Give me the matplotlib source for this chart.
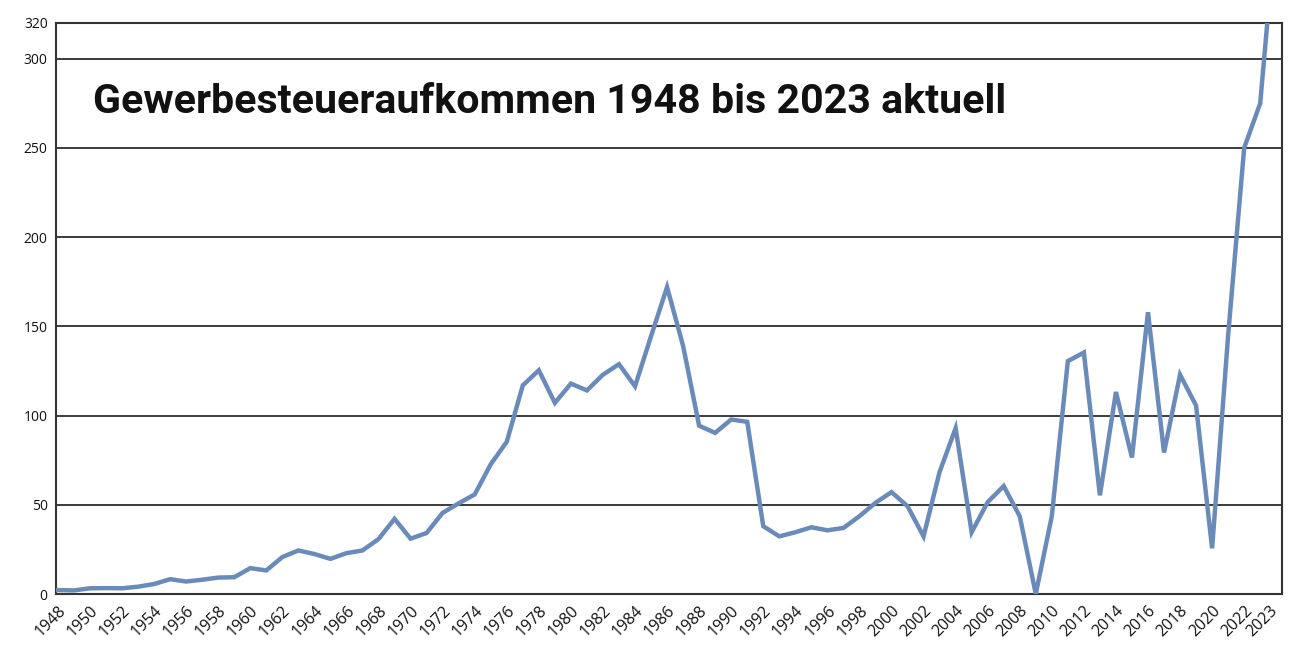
import matplotlib
matplotlib.use("Agg")
import matplotlib.pyplot as plt

years = list(range(1948, 2024))
values = [2.2, 2.0, 3.2, 3.3, 3.2, 4.1, 5.6, 8.3, 7.0, 8.0, 9.2, 9.4,
          14.5, 13.2, 20.7, 24.4, 22.4, 19.7, 22.9, 24.4, 30.8, 42.1, 31.0, 34.2,
          45.5, 50.8, 55.8, 72.7, 85.3, 116.9, 125.4, 107.1, 117.9, 114.1, 122.9, 128.8,
          116.4, 144.5, 172.0, 139.0, 94.3, 90.3, 97.8, 96.5, 38.0, 32.3, 34.6, 37.4,
          35.7, 37.0, 43.6, 51.1, 57.1, 49.2, 32.3, 68.4, 92.9, 34.6, 51.5, 60.5,
          43.6, 0.0, 43.6, 130.5, 135.3, 55.3, 113.2, 76.5, 157.9, 79.3, 122.9, 105.6,
          25.6, 145.0, 250.0, 275.0]
current_year = 2024
current_value = 377.0

tick_pos = list(range(1948, 2023, 2)) + [2023.6]
tick_labels = [str(y) for y in range(1948, 2023, 2)] + ["2023"]
y_ticks = [0, 50, 100, 150, 200, 250, 300, 320]
grid_levels = [50, 100, 150, 200, 250, 300]
title = "Gewerbesteueraufkommen 1948 bis 2023 aktuell"

fig = plt.figure(figsize=(12.96, 6.48), dpi=100)
ax = fig.add_axes([56/1296, 54/648, 1226/1296, 571/648])

for g in grid_levels:
    ax.axhline(g, color="#1a1a1a", lw=1.2, zorder=1)

ax.plot(years + [current_year], values + [current_value], color="#6a8bba",
        lw=3.2, solid_joinstyle="miter", zorder=3)

ax.set_xlim(1947.88, 2024.36)
ax.set_ylim(0, 320)
ax.set_yticks(y_ticks)
ax.set_yticklabels([str(v) for v in y_ticks], fontfamily="Open Sans", fontsize=10)
ax.set_xticks(tick_pos)
ax.set_xticklabels(tick_labels, rotation=45, ha="right", rotation_mode="anchor",
                   fontfamily="Open Sans", fontsize=11.5)
ax.tick_params(axis="both", length=0, pad=6, colors="#111111")
for s in ax.spines.values():
    s.set_color("#333333")
    s.set_linewidth(1.5)

ax.text(0.030, 0.842, title, transform=ax.transAxes, fontfamily="Roboto",
        fontweight="bold", fontsize=29.6, va="baseline", ha="left", color="#111111")

fig.savefig("out.png", dpi=100)
